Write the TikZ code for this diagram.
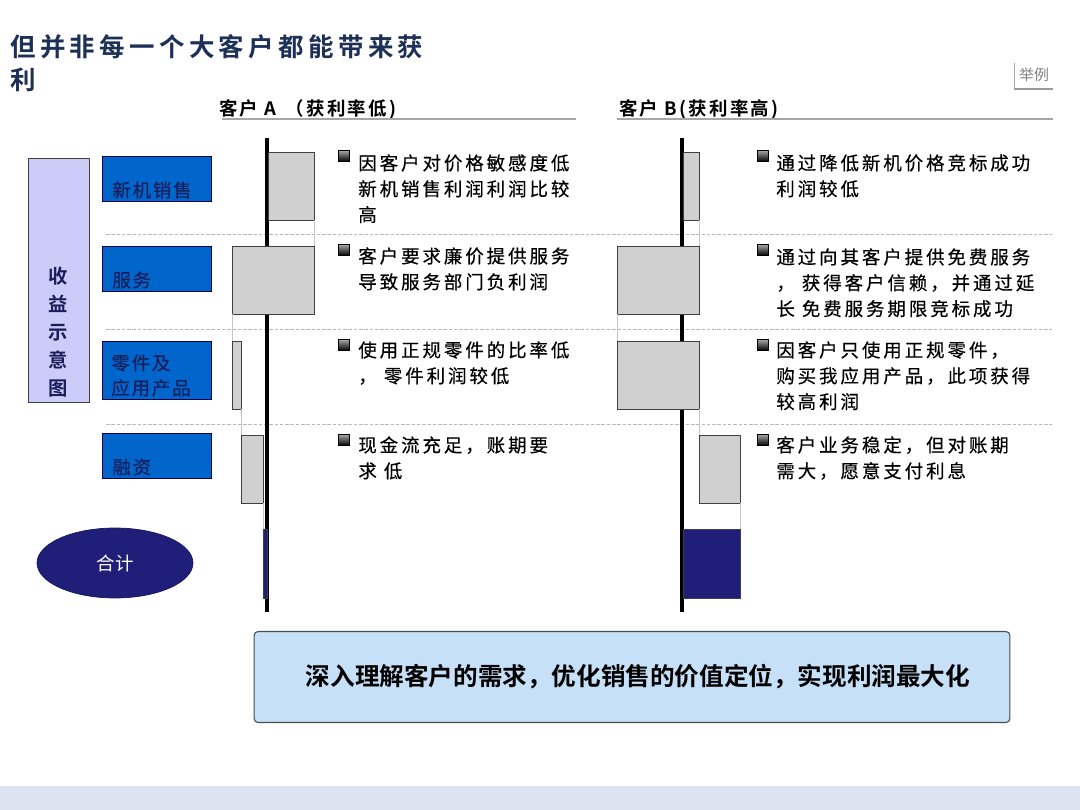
\documentclass[tikz,border=0pt]{standalone}
\usepackage{fontspec}
\setmainfont{Noto Sans CJK SC}[BoldFont={Noto Sans CJK SC Bold}]
\usetikzlibrary{shapes.geometric,positioning}

\definecolor{titlenavy}{HTML}{1C3058}
\definecolor{unitblue}{HTML}{0066CC}
\definecolor{lavender}{HTML}{CCCCF8}
\definecolor{totalnavy}{HTML}{1F1F7A}
\definecolor{bargray}{HTML}{D0D0D0}
\definecolor{notefill}{HTML}{C6E0F8}
\definecolor{bandfill}{HTML}{DCE3F1}
\definecolor{labelnavy}{HTML}{1A1F5C}

\tikzset{
    body/.style={anchor=north west, inner sep=0pt, align=left,
        font=\fontsize{10.5}{14.7}\selectfont\addfontfeature{LetterSpace=16,FakeBold=0.4}},
    bulletsq/.style={inner sep=0pt, minimum size=0.22cm, draw=black,
        top color=gray!70, bottom color=black},
    unitbox/.style={draw=blue!30!black, fill=unitblue, inner sep=0pt,
        minimum width=2.18cm, minimum height=0.9cm},
    unitlabel/.style={anchor=west, inner sep=0pt, align=left, text=labelnavy,
        font=\fontsize{10.5}{14.2}\selectfont\addfontfeature{LetterSpace=10,FakeBold=0.4}},
    headtext/.style={anchor=west, inner sep=0pt,
        font=\fontsize{10.5}{13}\selectfont\bfseries\addfontfeature{LetterSpace=12}},
    headline/.style={draw=gray!70, line width=1.1pt},
    sepline/.style={draw=gray!55, line width=0.5pt, dash pattern=on 2pt off 1pt},
    axisline/.style={draw=black, line width=2pt},
    barbox/.style={draw=black!75, fill=bargray, line width=0.5pt},
    totalbar/.style={draw=black!75, fill=totalnavy, line width=0.5pt},
    link/.style={draw=gray!45, line width=0.4pt},
}

\begin{document}
\begin{tikzpicture}[x=0.02cm, y=-0.02cm]
    \useasboundingbox (0,0) rectangle (1080,810);

    %title
    \node[anchor=north west, inner sep=0pt, align=left, text=titlenavy,
        font=\fontsize{14.5}{18.7}\selectfont\bfseries\addfontfeature{LetterSpace=17}]
        (title) at (10,34) {但并非每一个大客户都能带来获\\利};
    \node[text=gray, inner sep=0pt, font=\fontsize{8.5}{10}\selectfont] (tag) at (1034,75) {举例};
    \draw[gray!70, line width=0.5pt] (1014,63) -- (1014,89);
    \draw[gray!80, line width=1pt] (1014,89) -- (1053,89);

    %column heads
    \node[headtext] (headA) at (219,109) {客户 A\enspace（获利率低)};
    \node[headtext] (headB) at (619,109) {客户 B(获利率高)};
    \draw[headline] (222,119) -- (576,119);
    \draw[headline] (617,119) -- (1053,119);

    %row separators
    \foreach \y in {234,329,424}
    {
        \draw[sepline] (106,\y) -- (1052,\y);
    }

    %left side
    \node[draw=black!75, fill=lavender, inner sep=0pt, minimum width=1.22cm,
        minimum height=4.88cm] (chart) at (58.5,280) {};
    \node[inner sep=0pt, align=center, text=labelnavy,
        font=\fontsize{11}{15.9}\selectfont\bfseries] (charttxt) at (58,332) {收\\益\\示\\意\\图};

    \node[unitbox] (unew) at (156.5,178.5) {};
    \node[unitbox] (userv) at (156.5,268.5) {};
    \node[unitbox, minimum height=1.16cm] (uparts) at (156.5,370) {};
    \node[unitbox] (ufin) at (156.5,455.5) {};
    \node[unitlabel] (lnew) at (112,190) {新机销售};
    \node[unitlabel] (lserv) at (112,280) {服务};
    \node[unitlabel] (lparts) at (111,375.5) {零件及\\应用产品};
    \node[unitlabel] (lfin) at (112,467) {融资};

    \node[ellipse, fill=totalnavy, draw=totalnavy!70!black, inner sep=0pt,
        minimum width=3.12cm, minimum height=1.4cm, text=white,
        font=\fontsize{10.5}{13}\selectfont] (total) at (115,563) {合计};

    %waterfalls
    \draw[axisline] (267,138) -- (267,612);
    \draw[axisline] (682,138) -- (682,612);

    \foreach \n/\l/\r/\t in {a1/268/314/152, a2/232/314/246, a3/232/241/341,
        a4/241/263/435, b1/683/699/152, b2/617/699/246, b3/617/699/341, b4/699/740/435}
    {
        \draw[barbox] (\l,\t) coordinate (\n-nw) rectangle (\r,\t+68) coordinate (\n-se);
    }
    \draw[totalbar] (263,529) coordinate (at-nw) rectangle (267,598) coordinate (at-se);
    \draw[totalbar] (683,529) coordinate (bt-nw) rectangle (740,598) coordinate (bt-se);

    \foreach \c in {a,b}
    {
        \draw[link] (\c1-se) -- (\c1-se |- \c2-nw);
        \draw[link] (\c2-nw |- \c2-se) -- (\c3-nw);
        \draw[link] (\c3-se) -- (\c3-se |- \c4-nw);
        \draw[link] (\c4-se) -- (\c4-se |- \c t-nw);
    }

    %notes
    \foreach \i/\y in {1/156,2/250,3/345,4/440}
    {
        \node[bulletsq] (pa\i) at (344,\y) {};
        \node[bulletsq] (pb\i) at (763,\y) {};
    }
    \node[body] (na1) at (358,154) {因客户对价格敏感度低\\新机销售利润利润比较\\高};
    \node[body] (na2) at (358,247) {客户要求廉价提供服务\\导致服务部门负利润};
    \node[body] (na3) at (358,341) {使用正规零件的比率低\\， 零件利润较低};
    \node[body] (na4) at (358,436) {现金流充足，账期要\\求 低};

    \node[body] (nb1) at (776,154) {通过降低新机价格竞标成功\\利润较低};
    \node[body] (nb2) at (776,248) {通过向其客户提供免费服务\\， 获得客户信赖，并通过延\\长 免费服务期限竞标成功};
    \node[body] (nb3) at (776,341) {因客户只使用正规零件，\\购买我应用产品，此项获得\\较高利润};
    \node[body] (nb4) at (776,436) {客户业务稳定，但对账期\\需大，愿意支付利息};

    %conclusion
    \node[draw=black!70, fill=notefill, rounded corners=0.08cm, line width=0.6pt,
        minimum width=15.12cm, minimum height=1.82cm, inner sep=0pt,
        font=\fontsize{14}{17}\selectfont\bfseries] (msg) at (632,677) {\hspace*{0.24cm}深入理解客户的需求，优化销售的价值定位，实现利润最大化};
    \fill[bandfill] (0,786) rectangle (1080,810);
\end{tikzpicture}
\end{document}
